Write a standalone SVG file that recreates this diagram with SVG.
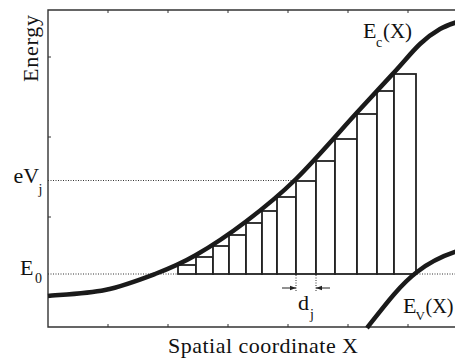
<svg xmlns="http://www.w3.org/2000/svg" width="455" height="360" viewBox="0 0 455 360">
<defs>
<style>
.ax{stroke:#333;stroke-width:1.4;fill:none}
.tk{stroke:#333;stroke-width:1}
.dot{stroke:#333;stroke-width:1;stroke-dasharray:1 1.5;fill:none}
.bar{fill:#fff;stroke:#222;stroke-width:1.8}
.band{fill:none;stroke:#1a1a1a;stroke-width:4.5;stroke-linecap:butt}
</style>
<marker id="ah" viewBox="0 0 6 6" refX="6" refY="3" markerWidth="6" markerHeight="6" markerUnits="userSpaceOnUse" orient="auto">
<path d="M0,0.8 L6,3 L0,5.2 Z" fill="#222"/>
</marker>
</defs>
<rect width="455" height="360" fill="#fff"/>
<g id="axes">
<path class="ax" d="M455,10 H48 V327 H455"/>
<path class="tk" d="M48,57 H51 M48,137 H51 M48,217 H51 M48,297 H51 M108,327 V324 M168,327 V324 M228,327 V324 M288,327 V324 M348,327 V324 M408,327 V324 M108,10 V13 M168,10 V13 M228,10 V13 M288,10 V13 M348,10 V13 M408,10 V13"/>
</g>
<g id="guides">
<path class="dot" d="M48,180.5 H296"/>
<path class="dot" d="M48,274 H178 M417,274 H455"/>
</g>
<g id="bars">
<rect class="bar" x="178" y="265" width="18" height="9"/>
<rect class="bar" x="196" y="257" width="17" height="17"/>
<rect class="bar" x="213" y="246" width="16" height="28"/>
<rect class="bar" x="229" y="235" width="17" height="39"/>
<rect class="bar" x="246" y="223" width="16" height="51"/>
<rect class="bar" x="262" y="211" width="15" height="63"/>
<rect class="bar" x="277" y="197" width="19" height="77"/>
<rect class="bar" x="296" y="181" width="20" height="93"/>
<rect class="bar" x="316" y="161" width="19" height="113"/>
<rect class="bar" x="335" y="139" width="22" height="135"/>
<rect class="bar" x="357" y="114" width="20" height="160"/>
<rect class="bar" x="377" y="91" width="17" height="183"/>
<rect class="bar" x="394" y="74" width="22" height="200"/>
</g>
<g id="Ec">
<path class="band" d="M48,296 C57.5,295 87.2,293.7 105,290 C122.8,286.3 139.8,279.8 155,274 C170.2,268.2 180.8,263.75 196,255 C211.2,246.25 229.3,234.2 246,221.5 C262.7,208.8 277.5,197.2 296,179 C314.5,160.8 340.7,130.25 357,112.5 C373.3,94.75 383.5,83.9 394,72.5 C404.5,61.1 412.3,51.25 420,44 C427.7,36.75 433.3,32.8 440,29 C446.7,25.2 456.7,22.3 460,21"/>
</g>
<g id="Ev">
<path class="band" d="M367,328 C385,305 400,285 417,272 C430,262 442,256 458,251"/>
</g>
<g font-family="Liberation Serif, Times New Roman, serif" fill="#111">
<g id="dj">
<path class="dot" d="M296,275 V292 M316,275 V292"/>
<path stroke="#222" stroke-width="1" fill="none" d="M282,288 H296" marker-end="url(#ah)"/>
<path stroke="#222" stroke-width="1" fill="none" d="M330,288 H316" marker-end="url(#ah)"/>
<text font-size="22" x="298" y="310">d</text><text font-size="14" x="310" y="319">j</text>
</g>
<g id="labels" font-size="22">
<text transform="translate(38,48.5) rotate(-90)" text-anchor="middle" textLength="67" lengthAdjust="spacing">Energy</text>
<text x="168" y="353" textLength="190" lengthAdjust="spacing">Spatial coordinate X</text>
<text x="13.5" y="183">eV</text><text font-size="14" x="38.5" y="194">j</text>
<text x="20" y="275">E</text><text font-size="14" x="35" y="283">0</text>
<text x="363" y="38">E</text><text font-size="14" x="376" y="47">c</text><text x="383" y="38" textLength="29" lengthAdjust="spacingAndGlyphs">(X)</text>
<text x="403" y="313">E</text><text font-size="13" x="415.5" y="320">V</text><text x="425.5" y="313" textLength="28" lengthAdjust="spacingAndGlyphs">(X)</text>
</g>
</g>
</svg>
